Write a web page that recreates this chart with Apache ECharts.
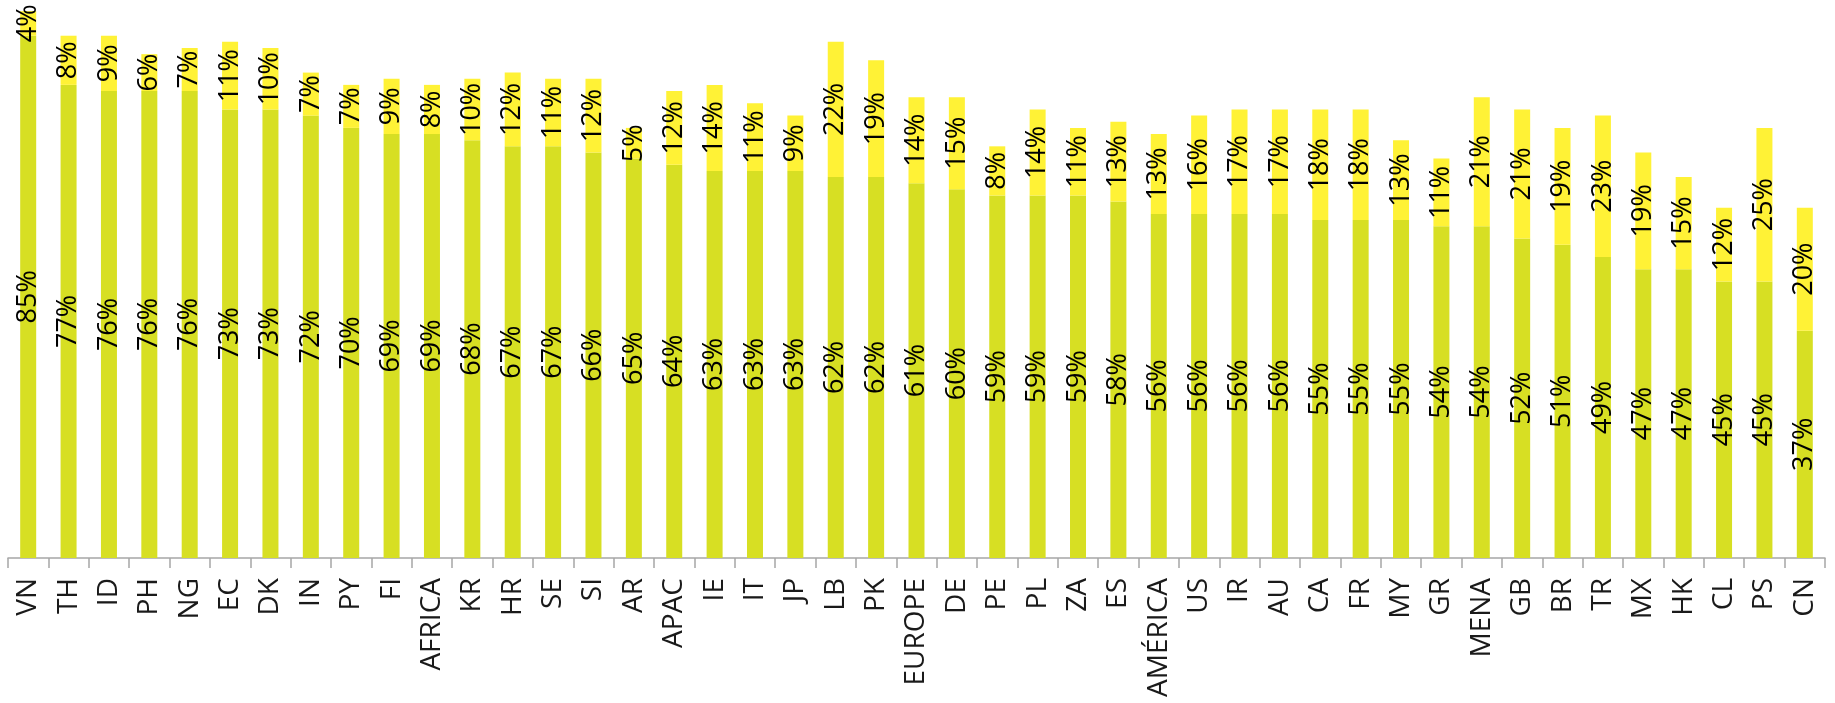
<!DOCTYPE html>
<html>
<head>
<meta charset="utf-8">
<script src="https://cdn.jsdelivr.net/npm/echarts@6/dist/echarts.min.js"></script>
<style>
  html, body { margin: 0; padding: 0; background: #fff; }
  #chart { width: 1835px; height: 703px; }
</style>
</head>
<body>
<div id="chart"></div>
<script>
// Country / region codes along the x axis
const categories = ['VN','TH','ID','PH','NG','EC','DK','IN','PY','FI','AFRICA','KR','HR','SE','SI','AR','APAC','IE','IT','JP','LB','PK','EUROPE','DE','PE','PL','ZA','ES','AMÉRICA','US','IR','AU','CA','FR','MY','GR','MENA','GB','BR','TR','MX','HK','CL','PS','CN'];

// Lower (green) segment, percent
const baseValues = [85,77,76,76,76,73,73,72,70,69,69,68,67,67,66,65,64,63,63,63,62,62,61,60,59,59,59,58,56,56,56,56,55,55,55,54,54,52,51,49,47,47,45,45,37];

// Upper (yellow) segment, percent
const topValues = [4,8,9,6,7,11,10,7,7,9,8,10,12,11,12,5,12,14,11,9,22,19,14,15,8,14,11,13,13,16,17,17,18,18,13,11,21,21,19,23,19,15,12,25,20];

const FONT = '"Open Sans", "Noto Sans", sans-serif';

const valueLabel = {
  show: true,
  position: 'inside',
  rotate: 90,
  fontFamily: FONT,
  fontSize: 27,
  color: '#000000',
  formatter: p => p.value + '%'
};

const chart = echarts.init(document.getElementById('chart'), null, { renderer: 'canvas' });
chart.setOption({
  animation: false,
  backgroundColor: '#ffffff',
  grid: { left: 8, right: 10, top: 5, bottom: 145, containLabel: false },
  xAxis: {
    type: 'category',
    data: categories,
    axisLine: { lineStyle: { color: '#a6a6a6', width: 1.5 } },
    axisTick: { show: true, length: 10, lineStyle: { color: '#a6a6a6', width: 1.5 } },
    axisLabel: {
      rotate: 90,
      interval: 0,
      margin: 20,
      fontFamily: FONT,
      fontSize: 28,
      color: '#1a1a1a'
    }
  },
  yAxis: {
    type: 'value',
    min: 0,
    max: 90,
    show: false,
    splitLine: { show: false }
  },
  series: [
    {
      name: 'base',
      type: 'bar',
      stack: 'total',
      data: baseValues,
      barWidth: 16,
      itemStyle: { color: '#d7df23' },
      label: valueLabel
    },
    {
      name: 'top',
      type: 'bar',
      stack: 'total',
      data: topValues,
      barWidth: 16,
      itemStyle: { color: '#fff236' },
      label: valueLabel
    }
  ]
});
</script>
</body>
</html>
